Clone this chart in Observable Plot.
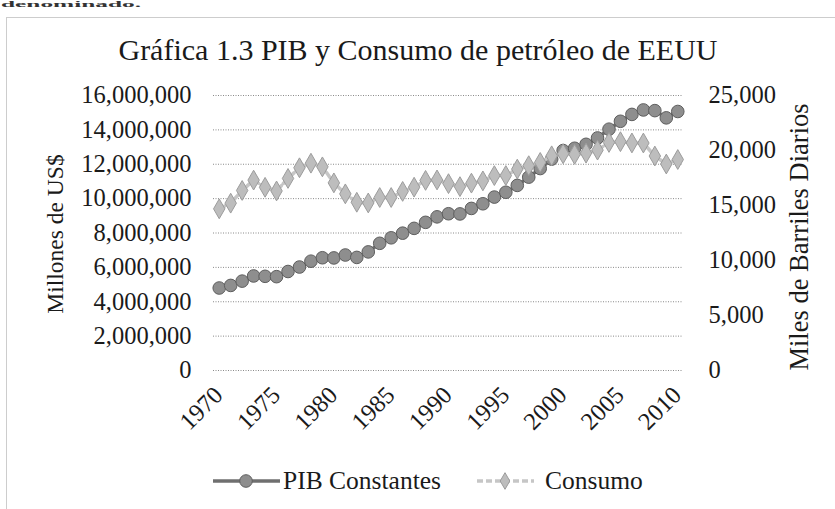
<!DOCTYPE html>
<html>
<head>
<meta charset="utf-8">
<script src="https://cdn.jsdelivr.net/npm/d3@7"></script>
<script src="https://cdn.jsdelivr.net/npm/@observablehq/plot@0.6"></script>
<style>
  html, body { margin: 0; padding: 0; background: #fff; }
  #wrap { position: relative; width: 835px; height: 509px; overflow: hidden; background: #fff; }
  #wrap > svg { position: absolute; left: 0; top: 0; }
</style>
</head>
<body>
<div id="wrap"></div>
<script>
// ---- Data ----
const years = [1970,1971,1972,1973,1974,1975,1976,1977,1978,1979,
               1980,1981,1982,1983,1984,1985,1986,1987,1988,1989,
               1990,1991,1992,1993,1994,1995,1996,1997,1998,1999,
               2000,2001,2002,2003,2004,2005,2006,2007,2008,2009,2010];
// PIB Constantes, millones de US$
const pibConstantes = [4800000,4950000,5200000,5500000,5480000,5460000,5760000,6020000,6360000,6560000,
                       6550000,6720000,6580000,6900000,7400000,7720000,7990000,8270000,8620000,8940000,
                       9120000,9110000,9430000,9700000,10090000,10370000,10770000,11250000,11750000,12300000,
                       12800000,12930000,13160000,13530000,14040000,14500000,14900000,15160000,15120000,14700000,15070000];
// Consumo, miles de barriles diarios
const consumo = [14697,15212,16367,17308,16653,16322,17461,18431,18847,18513,
                 17056,16058,15296,15231,15726,15726,16281,16665,17283,17325,
                 16988,16714,17033,17237,17718,17725,18309,18620,18917,19519,
                 19701,19649,19761,20034,20731,20802,20687,20680,19498,18771,19180];
const leftTicks = [0,2000000,4000000,6000000,8000000,10000000,12000000,14000000,16000000];
const rightTicks = [0,5000,10000,15000,20000,25000];
const xTicks = [1970,1975,1980,1985,1990,1995,2000,2005,2010];
const seriesNames = ["PIB Constantes", "Consumo"];
const titleText = "Gráfica 1.3 PIB y Consumo de petróleo de EEUU";
const leftLabel = "Millones de US$";
const rightLabel = "Miles de Barriles Diarios";
const topSliver = "denominado.";

// secondary axis mapped onto primary domain
const leftMax = 16000000, rightMax = 25000;
const ratio = leftMax / rightMax;

const rows = years.map((y, i) => ({year: y, pib: pibConstantes[i], cons: consumo[i] * ratio}));
const fmt = d3.format(",");
const FONT = "'Liberation Serif', 'Times New Roman', serif";

const chart = Plot.plot({
  width: 835,
  height: 509,
  marginTop: 95,
  marginBottom: 139,
  marginLeft: 213,
  marginRight: 152,
  style: {fontFamily: FONT, fontSize: "24px", color: "#1a1a1a", background: "transparent", overflow: "visible"},
  x: {domain: [1969.5, 2010.5]},
  y: {domain: [0, leftMax]},
  marks: [
    Plot.gridY(leftTicks, {stroke: "#8a8a8a", strokeOpacity: 1, strokeWidth: 1, strokeDasharray: "1,1.5"}),
    Plot.axisY(leftTicks, {anchor: "left", tickSize: 0, tickPadding: 22, tickFormat: fmt, label: null, fontSize: 24.5}),
    Plot.axisY(rightTicks.map(v => v * ratio), {anchor: "right", tickSize: 0, tickPadding: 25, tickFormat: d => fmt(Math.round(d / ratio)), label: null, fontSize: 24.5, textAnchor: "start"}),
    Plot.axisX({ticks: [], label: null, tickSize: 0}),
    Plot.text(xTicks, {x: d => d, frameAnchor: "bottom", text: d => String(d), rotate: -45, textAnchor: "end", dx: 5, dy: 26, fontSize: 24.5, fill: "#1a1a1a"}),
    Plot.lineY(rows, {x: "year", y: "pib", stroke: "#6f6f6f", strokeWidth: 3.5}),
    Plot.dot(rows, {x: "year", y: "pib", r: 6.3, fill: "#8e8e8e", stroke: "#5e5e5e", strokeWidth: 1}),
    Plot.lineY(rows, {x: "year", y: "cons", stroke: "#c6c6c6", strokeWidth: 3.5, strokeDasharray: "6,3"}),
    Plot.dot(rows, {x: "year", y: "cons", symbol: "diamond", r: 6, fill: "#bdbdbd", stroke: "#9c9c9c", strokeWidth: 1})
  ]
});
document.getElementById("wrap").appendChild(chart);

// ---- Overlay: frame, title, axis labels, legend ----
const ov = d3.select("#wrap").append("svg")
  .attr("width", 835).attr("height", 509)
  .attr("font-family", FONT);

ov.append("rect").attr("x", 6.5).attr("y", 17.5).attr("width", 840).attr("height", 500)
  .attr("fill", "none").attr("stroke", "#9a9a9a").attr("stroke-dasharray", "1,1");

ov.append("text").attr("x", 1).attr("y", 7).attr("font-weight", "bold").attr("font-size", 9)
  .attr("textLength", 140).attr("lengthAdjust", "spacingAndGlyphs")
  .attr("fill", "#333").text(topSliver);

ov.append("text").attr("x", 418).attr("y", 60).attr("text-anchor", "middle")
  .attr("font-size", 30).attr("fill", "#1a1a1a").text(titleText);

ov.append("text").attr("transform", "translate(63,234) rotate(-90)").attr("text-anchor", "middle")
  .attr("font-size", 23.5).attr("fill", "#1a1a1a").text(leftLabel);

ov.append("text").attr("transform", "translate(808,237) rotate(-90)").attr("text-anchor", "middle")
  .attr("font-size", 26.5).attr("fill", "#1a1a1a").text(rightLabel);

// legend
const ly = 481;
const g1 = ov.append("g");
g1.append("line").attr("x1", 213).attr("x2", 280).attr("y1", ly).attr("y2", ly)
  .attr("stroke", "#6f6f6f").attr("stroke-width", 3.5);
g1.append("circle").attr("cx", 246).attr("cy", ly).attr("r", 6.3)
  .attr("fill", "#8e8e8e").attr("stroke", "#5e5e5e");
g1.append("text").attr("x", 283).attr("y", 489).attr("font-size", 25.5).attr("fill", "#1a1a1a").text(seriesNames[0]);

const g2 = ov.append("g");
g2.append("line").attr("x1", 477).attr("x2", 534).attr("y1", ly).attr("y2", ly)
  .attr("stroke", "#c6c6c6").attr("stroke-width", 3.5).attr("stroke-dasharray", "6,3");
g2.append("path").attr("d", d3.symbol(d3.symbolDiamond, 80)()).attr("transform", `translate(505,${ly})`)
  .attr("fill", "#bdbdbd").attr("stroke", "#9c9c9c");
g2.append("text").attr("x", 545).attr("y", 489).attr("font-size", 25.5).attr("fill", "#1a1a1a").text(seriesNames[1]);
</script>
</body>
</html>
